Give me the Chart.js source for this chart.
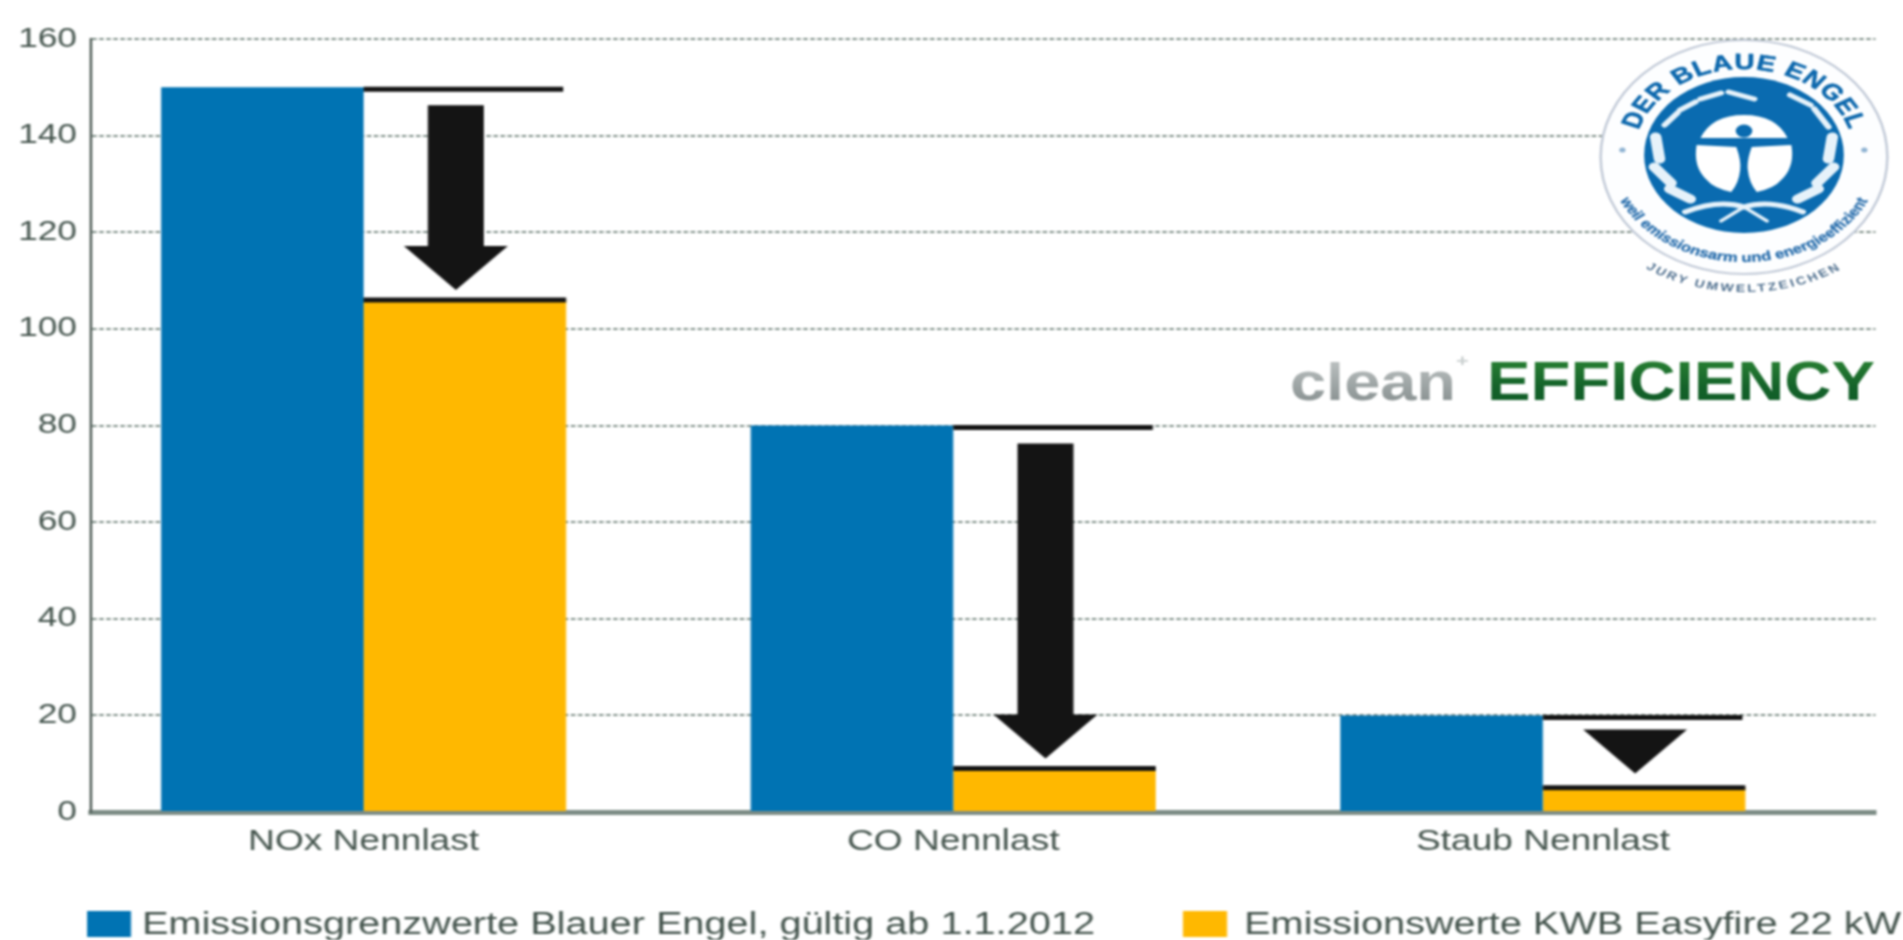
<!DOCTYPE html>
<html><head><meta charset="utf-8">
<style>
html,body{margin:0;padding:0;background:#fff;overflow:hidden;width:1903px;height:940px}
#wrap{position:absolute;left:0;top:0;height:940px;transform-origin:0 0;filter:blur(0.9px)}
#wrap canvas,#wrap svg{position:absolute;left:0;top:0}
</style>
<script src="https://cdn.jsdelivr.net/npm/chart.js@4"></script>
</head><body>
<div id="wrap">
<canvas id="c"></canvas>
<svg id="logo" height="940" xmlns="http://www.w3.org/2000/svg" font-family="Liberation Sans, Arial, sans-serif">
  <defs>
    <path id="topArc" d="M-86,0 A86,86 0 0 1 86,0"/>
    <path id="botArc" d="M-107,0 A107,107 0 0 0 107,0"/>
    <path id="botArc2" d="M-137,0 A137,137 0 0 0 137,0"/>
    <linearGradient id="gGreen" x1="0" y1="0" x2="0" y2="1"><stop offset="0" stop-color="#2f8a35"/><stop offset="0.6" stop-color="#14622a"/><stop offset="1" stop-color="#0f5a26"/></linearGradient>
    <linearGradient id="gGray" x1="0" y1="0" x2="0" y2="1"><stop offset="0" stop-color="#c4c9c9"/><stop offset="1" stop-color="#7f8888"/></linearGradient>
  </defs>
  <g id="seal">
    <ellipse cy="2" rx="112" ry="117" fill="#fdfeff" stroke="#c3cbd8" stroke-width="2"/>
    <circle r="78" fill="#0a6bb0"/>
    <text font-size="22" font-weight="700" fill="#0d68ad" stroke="#0d68ad" stroke-width="0.5" letter-spacing="0.6"><textPath href="#topArc" startOffset="50%" text-anchor="middle">DER BLAUE ENGEL</textPath></text>
    <text font-size="13" font-weight="700" fill="#2a6fad" stroke="#2a6fad" stroke-width="0.3"><textPath href="#botArc" startOffset="50%" text-anchor="middle">weil emissionsarm und energieeffizient</textPath></text>
    <text font-size="11" font-weight="700" fill="#4f6f8e" letter-spacing="2"><textPath href="#botArc2" startOffset="50%" text-anchor="middle">JURY UMWELTZEICHEN</textPath></text>
    <circle cx="-95" cy="-5" r="2.5" fill="#8fb3d2"/><circle cx="94" cy="-5" r="2.5" fill="#8fb3d2"/>
    <g fill="none" stroke="#e6f2fa" stroke-linecap="round">
      <path stroke-width="9" d="M-69,-18 L-66,4 M-70,12 L-57,28 M-58,34 L-42,44 M69,-18 L66,4 M70,12 L57,28 M58,34 L42,44"/>
      <path stroke-width="5" d="M-62,-30 L-52,-42 M-50,-45 L-38,-53 M-34,-56 L-18,-62 M-12,-63 L8,-56 M36,-60 L52,-50 M55,-46 L66,-28"/>
      <path stroke-width="5" d="M-46,57 Q-20,44 0,52 Q20,44 46,57"/>
      <path stroke-width="3" d="M-18,66 L0,52 L18,66"/>
    </g>
    <path d="M-34,-17 Q-25,-40 0,-40 Q25,-40 34,-17Z" fill="#fff"/>
    <path d="M-37,-10 L-6,-8 Q-2,6 -3,15 Q-4,28 -10,37 Q-24,33 -29,25 Q-40,12 -37,-10Z" fill="#fff"/>
    <path d="M37,-10 L6,-8 Q2,6 3,15 Q4,28 10,37 Q24,33 29,25 Q40,12 37,-10Z" fill="#fff"/>
    <circle cy="-24" r="6.5" fill="#0a6bb0"/>
  </g>
  <text id="cleanT" font-size="52" font-weight="700" fill="url(#gGray)" lengthAdjust="spacingAndGlyphs">clean</text>
  <text id="plusT" font-size="17" font-weight="700" fill="#c9cfcf">+</text>
  <text id="effT" font-size="56" font-weight="700" fill="url(#gGreen)" lengthAdjust="spacingAndGlyphs">EFFICIENCY</text>
</svg>
</div>
<script>
// ---- data ----
const categories = ['NOx Nennlast', 'CO Nennlast', 'Staub Nennlast'];
const limitValues = [150, 80, 20];
const kwbValues = [106, 9, 5];
const yTicks = [0, 20, 40, 60, 80, 100, 120, 140, 160];
const seriesLabels = ['Emissionsgrenzwerte Blauer Engel, gültig ab 1.1.2012', 'Emissionswerte KWB Easyfire 22 kW'];
const seriesColors = ['#0073B3', '#FFB800'];

// ---- layout ----
const S = 1.28;                 // the whole picture is stretched horizontally by this factor
const W = 1903 / S, H = 940;
const px = v => v / S;
const FONT = '"Liberation Sans", Arial, sans-serif';
const TEXT = '#42524b';

const wrap = document.getElementById('wrap');
wrap.style.width = W + 'px';
wrap.style.transform = 'scaleX(' + S + ')';
const cv = document.getElementById('c');
cv.width = Math.round(W); cv.height = H;
cv.style.width = Math.round(W) + 'px'; cv.style.height = H + 'px';

// logo placement
const svg = document.getElementById('logo');
svg.setAttribute('width', W);
document.getElementById('seal').setAttribute('transform', 'translate(' + px(1744) + ',155)');
const cl = document.getElementById('cleanT');
cl.setAttribute('x', px(1290)); cl.setAttribute('y', 400); cl.setAttribute('textLength', px(166));
const pl = document.getElementById('plusT');
pl.setAttribute('x', px(1456)); pl.setAttribute('y', 366);
const ef = document.getElementById('effT');
ef.setAttribute('x', px(1487)); ef.setAttribute('y', 400); ef.setAttribute('textLength', px(388));

// black level lines and arrows, positioned from the bars themselves
const arrows = {
  id: 'arrows',
  afterDatasetsDraw(chart) {
    const c = chart.ctx, a = chart.getDatasetMeta(0).data, b = chart.getDatasetMeta(1).data;
    c.save();
    c.fillStyle = c.strokeStyle = '#141414';
    b.forEach((bar, i) => {
      const left = bar.x - bar.width / 2, right = bar.x + bar.width / 2;
      const yTop = a[i].y + 2, yLow = bar.y;
      c.lineWidth = 5;
      c.beginPath(); c.moveTo(left, yTop); c.lineTo(right - px(3), yTop); c.stroke();
      c.beginPath(); c.moveTo(left, yLow); c.lineTo(right, yLow); c.stroke();
      const cx = bar.x - px(9), bw = px(28), hw = px(52), hh = 44;
      const top = yTop + 16, tip = yLow - 10;
      c.beginPath();
      if (tip - hh - top > 8) {
        const base = tip - hh;
        c.moveTo(cx - bw, top); c.lineTo(cx + bw, top); c.lineTo(cx + bw, base);
        c.lineTo(cx + hw, base); c.lineTo(cx, tip); c.lineTo(cx - hw, base); c.lineTo(cx - bw, base);
      } else {
        const base = yTop + 12;   // gap too small for a shaft: the head alone
        c.moveTo(cx - hw, base); c.lineTo(cx + hw, base); c.lineTo(cx, base + hh);
      }
      c.closePath(); c.fill();
    });
    c.restore();
  }
};

// legend along the bottom edge
const bottomLegend = {
  id: 'bottomLegend',
  afterDraw(chart) {
    const c = chart.ctx, boxX = [87, 1183], textX = [142, 1244];
    c.save();
    c.font = '31px ' + FONT; c.textBaseline = 'middle'; c.textAlign = 'left';
    chart.data.datasets.forEach((d, i) => {
      c.fillStyle = d.backgroundColor;
      c.fillRect(px(boxX[i]), 911, px(44), 26);
      c.fillStyle = TEXT;
      c.fillText(d.label, px(textX[i]), 925);
    });
    c.restore();
  }
};

new Chart(cv, {
  type: 'bar',
  data: {
    datasets: [
      { label: seriesLabels[0], backgroundColor: seriesColors[0], data: limitValues.map((y, x) => ({ x, y })) },
      { label: seriesLabels[1], backgroundColor: seriesColors[1], data: kwbValues.map((y, x) => ({ x, y })) }
    ]
  },
  options: {
    responsive: false, animation: false, devicePixelRatio: 1,
    layout: { padding: { left: 0, right: W - px(1875), top: 39, bottom: 88 } },
    plugins: { legend: { display: false }, tooltip: { enabled: false } },
    datasets: { bar: { barPercentage: 1, categoryPercentage: 0.687 } },
    scales: {
      x: {
        type: 'linear', offset: false, min: -0.4623, max: 2.564,
        afterBuildTicks: s => { s.ticks = categories.map((_, i) => ({ value: i })); },
        afterFit: s => { s.height = 40; },
        grid: { display: false, drawTicks: false },
        border: { display: true, color: '#7d8d86', width: 5 },
        ticks: { padding: 13, maxRotation: 0, autoSkip: false, color: TEXT,
          font: { family: FONT, size: 29 }, callback: v => categories[v] }
      },
      y: {
        min: 0, max: 160,
        afterBuildTicks: s => { s.ticks = yTicks.map(value => ({ value })); },
        afterFit: s => { s.width = px(91); },
        grid: { color: '#7f8f88', lineWidth: 2, drawTicks: false },
        border: { display: true, color: '#56635d', width: 2, dash: [3.5, 2] },
        ticks: { padding: px(14), color: TEXT, font: { family: FONT, size: 27.5 } }
      }
    }
  },
  plugins: [arrows, bottomLegend]
});
</script>
</body></html>
